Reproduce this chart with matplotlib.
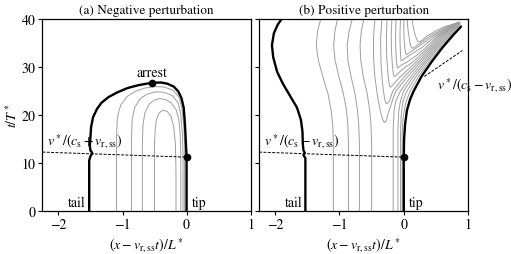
import numpy as np
import matplotlib.pyplot as plt

plt.rcParams['font.family'] = 'STIXGeneral'
plt.rcParams['mathtext.fontset'] = 'stix'
plt.rcParams['font.size'] = 10

# ---------------- panel (a): negative perturbation ----------------
neg_front = [(-1.52, 0), (-1.52, 10.5), (-1.50, 11.4), (-1.47, 12.0), (-1.50, 12.6),
             (-1.51, 13.5), (-1.50, 15.5), (-1.49, 17.5), (-1.46, 19.5), (-1.40, 21.2),
             (-1.33, 22.5), (-1.22, 23.7), (-1.08, 24.7), (-0.92, 25.6), (-0.75, 26.2),
             (-0.54, 26.7), (-0.40, 26.75), (-0.30, 26.5), (-0.20, 25.9), (-0.13, 24.9),
             (-0.08, 23.5), (-0.045, 21.5), (-0.025, 18), (-0.01, 14), (0, 11.2), (0, 0)]

neg_arch1 = [(-1.095, 0), (-1.095, 15), (-1.08, 19.5), (-1.03, 22), (-0.93, 23.8), (-0.80, 24.9),
             (-0.65, 25.6), (-0.50, 25.9), (-0.35, 25.8), (-0.22, 25.2), (-0.12, 23.8),
             (-0.075, 21.5), (-0.045, 18), (-0.03, 14), (-0.03, 0)]
neg_arch2 = [(-0.86, 0), (-0.86, 15), (-0.85, 19), (-0.81, 21.5), (-0.73, 23.3), (-0.62, 24.3),
             (-0.48, 24.8), (-0.35, 24.7), (-0.22, 24.0), (-0.13, 22.5), (-0.09, 20),
             (-0.065, 16), (-0.055, 12), (-0.055, 0)]
neg_arch3 = [(-0.69, 0), (-0.69, 14), (-0.68, 18), (-0.65, 20.5), (-0.58, 22.3), (-0.50, 23.1),
             (-0.42, 23.4), (-0.33, 23.2), (-0.24, 22.5), (-0.16, 21), (-0.12, 19),
             (-0.10, 16), (-0.09, 12), (-0.09, 0)]
neg_arch4 = [(-0.50, 0), (-0.50, 14), (-0.49, 17), (-0.47, 19), (-0.43, 20.4), (-0.37, 21.0),
             (-0.30, 20.7), (-0.24, 19.6), (-0.20, 17.5), (-0.175, 14), (-0.165, 8), (-0.165, 0)]
neg_arches = [neg_arch1, neg_arch2, neg_arch3, neg_arch4]

arrest_pt = (-0.54, 26.7)
tip_pt = (0.0, 11.2)
front_wave = [(-2.25, 12.25), (0.0, 11.2)]

# ---------------- panel (b): positive perturbation ----------------
pos_tail = [(-1.53, 0), (-1.53, 11.0), (-1.56, 11.6), (-1.54, 12.1), (-1.56, 12.6), (-1.57, 14),
            (-1.575, 16.5), (-1.60, 19), (-1.66, 21.5), (-1.77, 24), (-1.88, 26.5), (-1.97, 29),
            (-2.03, 32), (-2.05, 34.5), (-2.02, 37), (-1.96, 38.8), (-1.90, 40)]
pos_tip = [(0, 0), (0, 11.2), (0.005, 15), (0.02, 18), (0.05, 21), (0.10, 23.3), (0.155, 25),
           (0.275, 28), (0.43, 31), (0.60, 34), (0.76, 36.5), (0.89, 38.4)]

pos_c1 = [(-1.095, 0), (-1.095, 14), (-1.105, 18), (-1.13, 21), (-1.18, 24.5), (-1.26, 28),
          (-1.33, 31.5), (-1.36, 34.5), (-1.34, 37.5), (-1.29, 40)]
pos_c2 = [(-0.86, 0), (-0.86, 14), (-0.87, 18), (-0.89, 21), (-0.94, 24.5), (-1.01, 28),
          (-1.07, 31.5), (-1.09, 34.5), (-1.07, 37.5), (-1.03, 40)]
pos_c3 = [(-0.69, 0), (-0.69, 14), (-0.70, 18), (-0.72, 21), (-0.76, 24.5), (-0.82, 28),
          (-0.87, 31.5), (-0.88, 34.5), (-0.85, 37.5), (-0.80, 40)]
pos_c4 = [(-0.50, 0), (-0.50, 14), (-0.51, 18), (-0.53, 21), (-0.57, 24.5), (-0.63, 28),
          (-0.67, 31.5), (-0.68, 34.5), (-0.66, 37.5), (-0.62, 40)]
pos_left = [pos_c1, pos_c2, pos_c3, pos_c4]

pos_v = [(-0.45, 40), (-0.47, 36), (-0.47, 32), (-0.45, 28), (-0.41, 24), (-0.36, 20.5),
         (-0.32, 18.8), (-0.30, 18.4), (-0.27, 18.8), (-0.25, 20), (-0.20, 22), (-0.165, 23.5),
         (-0.12, 25), (0.06, 28), (0.265, 31), (0.465, 34), (0.63, 36.5), (0.78, 38.3), (0.86, 39.3)]
pos_u8 = [(-0.34, 40), (-0.36, 36), (-0.355, 31), (-0.33, 26.5), (-0.30, 23.5), (-0.28, 22.5),
          (-0.26, 22.3), (-0.22, 23), (-0.17, 25), (0.01, 28), (0.23, 31), (0.44, 34),
          (0.605, 36.5), (0.765, 38.3), (0.86, 39.3)]
pos_u7 = [(-0.26, 40), (-0.27, 36), (-0.265, 32), (-0.245, 28.3), (-0.225, 26.3), (-0.21, 25.8),
          (-0.19, 25.9), (-0.17, 26.3), (-0.05, 28), (0.19, 31), (0.41, 34), (0.58, 36.5),
          (0.75, 38.3), (0.86, 39.3)]
pos_u6 = [(-0.185, 40), (-0.195, 36.5), (-0.19, 33), (-0.175, 30), (-0.16, 28.4), (-0.15, 28.0),
          (-0.13, 28.1), (-0.11, 28.4), (-0.02, 29.5), (0.14, 31), (0.38, 34), (0.555, 36.5),
          (0.735, 38.3), (0.86, 39.3)]
pos_u5 = [(-0.12, 40), (-0.128, 37), (-0.125, 34), (-0.115, 31.5), (-0.105, 30.1), (-0.10, 29.8),
          (-0.08, 29.9), (-0.06, 30.2), (0.05, 31), (0.21, 32.5), (0.34, 34), (0.53, 36.5),
          (0.72, 38.3), (0.86, 39.3)]
pos_u4 = [(-0.05, 40), (-0.058, 37.5), (-0.058, 35), (-0.05, 32.6), (-0.045, 31.6), (-0.04, 31.3),
          (-0.02, 31.35), (0.0, 31.6), (0.10, 32.5), (0.28, 34), (0.50, 36.5), (0.70, 38.3),
          (0.86, 39.3)]
pos_u3 = [(0.0, 40), (0.0, 38), (0.005, 36), (0.015, 34.2), (0.027, 33.0), (0.04, 32.6),
          (0.06, 32.65), (0.08, 32.9), (0.20, 34), (0.33, 35.2), (0.46, 36.5), (0.68, 38.3),
          (0.86, 39.3)]
pos_u2 = [(0.055, 40), (0.06, 38.5), (0.075, 36.8), (0.10, 34.8), (0.115, 34.1), (0.13, 33.9),
          (0.15, 33.95), (0.17, 34.1), (0.28, 35.2), (0.42, 36.5), (0.655, 38.3), (0.86, 39.3)]
pos_u1 = [(0.13, 40), (0.145, 38.5), (0.17, 37), (0.20, 35.8), (0.215, 35.35), (0.23, 35.2),
          (0.25, 35.25), (0.27, 35.4), (0.37, 36.5), (0.50, 37.5), (0.62, 38.3), (0.86, 39.3)]
pos_loops = [pos_v, pos_u8, pos_u7, pos_u6, pos_u5, pos_u4, pos_u3, pos_u2, pos_u1]

pos_r1 = [(-0.165, 0), (-0.165, 17), (-0.15, 21), (-0.12, 23), (-0.05, 25), (0.11, 28),
          (0.30, 31), (0.49, 34), (0.655, 36.5), (0.795, 38.3), (0.87, 39.2)]
pos_r2 = [(-0.09, 0), (-0.09, 17), (-0.08, 20.5), (-0.05, 23), (0.0, 25), (0.15, 28),
          (0.33, 31), (0.515, 34), (0.68, 36.5), (0.81, 38.3), (0.87, 39.2)]
pos_r3 = [(-0.05, 0), (-0.05, 16.5), (-0.04, 20), (-0.01, 23), (0.05, 25), (0.19, 28),
          (0.36, 31), (0.54, 34), (0.705, 36.5), (0.825, 38.3), (0.875, 39.1)]
pos_r4 = [(-0.025, 0), (-0.025, 16), (-0.01, 19.5), (0.03, 22.5), (0.10, 25), (0.23, 28),
          (0.39, 31), (0.57, 34), (0.73, 36.5), (0.84, 38.3), (0.88, 38.9)]
pos_rise = [pos_r1, pos_r2, pos_r3, pos_r4]

slope_line = [(0.32, 28.0), (0.91, 33.4)]

GRAY = '0.62'


def draw(ax, pts, **kw):
    a = np.array(pts, dtype=float)
    ax.plot(a[:, 0], a[:, 1], solid_joinstyle='round', solid_capstyle='round', **kw)


fig = plt.figure(figsize=(5.11, 2.55), dpi=100)
ax1 = fig.add_axes([0.083, 0.169, 0.4075, 0.753])
ax2 = fig.add_axes([0.507, 0.169, 0.409, 0.753])

# panel (a)
for c in neg_arches:
    draw(ax1, c, color=GRAY, lw=0.7)
draw(ax1, neg_front, color='k', lw=1.7)
draw(ax1, front_wave, color='k', lw=0.7, ls=(0, (3, 1.5)))
ax1.plot(*arrest_pt, 'o', color='k', ms=4.5)
ax1.plot(*tip_pt, 'o', color='k', ms=4.5)
ax1.text(arrest_pt[0], arrest_pt[1] + 0.8, 'arrest', ha='center', va='bottom')
ax1.text(-1.58, 0.5, 'tail', ha='right', va='bottom')
ax1.text(0.08, 0.5, 'tip', ha='left', va='bottom')
ax1.text(-2.18, 12.7, r'$v^*/(c_\mathrm{s}+v_{\mathrm{r,ss}})$', ha='left', va='bottom')
ax1.set_title('(a) Negative perturbation', fontsize=9.5, pad=4)
ax1.set_ylabel(r'$t/T^*$', labelpad=1)

# panel (b)
for c in pos_left + pos_loops + pos_rise:
    draw(ax2, c, color=GRAY, lw=0.7)
draw(ax2, pos_tail, color='k', lw=1.7)
draw(ax2, pos_tip, color='k', lw=1.7)
draw(ax2, front_wave, color='k', lw=0.7, ls=(0, (3, 1.5)))
draw(ax2, slope_line, color='k', lw=0.7, ls=(0, (3, 1.5)))
ax2.plot(*tip_pt, 'o', color='k', ms=4.5)
ax2.text(-1.58, 0.5, 'tail', ha='right', va='bottom')
ax2.text(0.08, 0.5, 'tip', ha='left', va='bottom')
ax2.text(-2.18, 12.7, r'$v^*/(c_\mathrm{s}-v_{\mathrm{r,ss}})$', ha='left', va='bottom')
ax2.text(0.52, 24.3, r'$v^*/(c_\mathrm{s}-v_{\mathrm{r,ss}})$', ha='left', va='bottom',
         clip_on=False)
ax2.set_title('(b) Positive perturbation', fontsize=9.5, pad=4)

for ax in (ax1, ax2):
    ax.set_xlim(-2.25, 1)
    ax.set_ylim(0, 40)
    ax.set_xticks([-2, -1, 0, 1])
    ax.set_yticks([0, 10, 20, 30, 40])
    ax.tick_params(direction='out', length=3, width=0.8, labelsize=10, pad=2)
    ax.set_xlabel(r'$(x-v_{\mathrm{r,ss}}t)/L^*$', labelpad=3)
    for s in ax.spines.values():
        s.set_linewidth(0.9)
ax2.set_yticklabels([])

fig.savefig('out.png', dpi=100)
